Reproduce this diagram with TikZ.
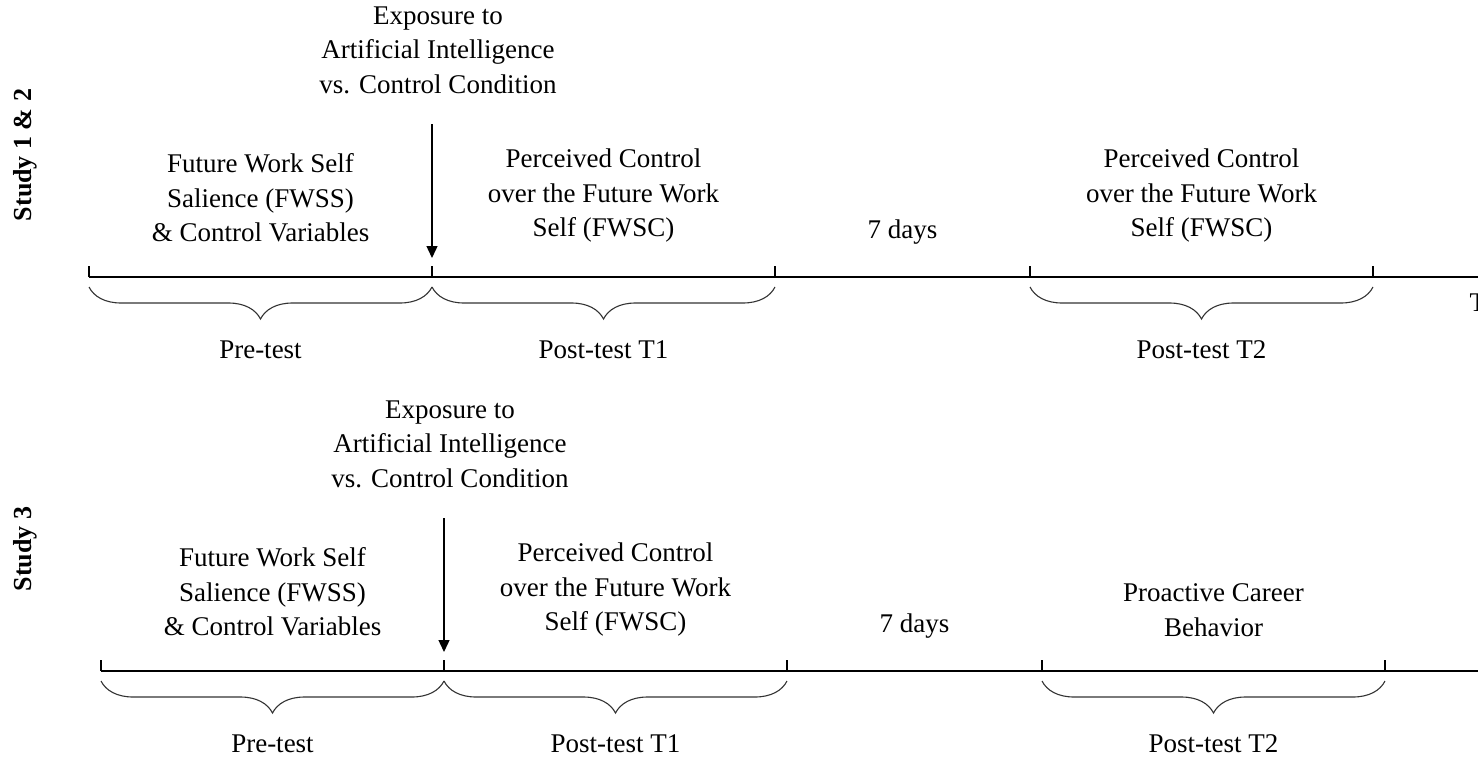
\documentclass[tikz,border=0pt]{standalone}
\usepackage{fontspec}
\setmainfont{Liberation Serif}
\usetikzlibrary{arrows.meta, positioning, calc, decorations.pathreplacing}
\tikzset{
  every picture/.style={line width=1.4pt},
  lbl/.style={align=center, inner sep=0pt, font=\fontsize{27}{34.5}\selectfont},
  study/.style={inner sep=0pt, rotate=90, font=\fontsize{26}{30}\selectfont\bfseries},
  tickmark/.style={line width=1.4pt},
  brc/.style={decorate, decoration={brace, mirror, amplitude=32pt}, line width=1.1pt, draw=black!80},
  arrow/.style={-{Triangle[length=12pt, width=11pt]}, line width=1.4pt},
}

\begin{document}
\begin{tikzpicture}[x=1pt, y=-1pt]
  \useasboundingbox (0,0) rectangle (1478,758);
  \foreach \dx/\dy/\s/\name/\last in {0/0/a/{Study 1 \& 2}/{Perceived Control\\over the Future Work\\Self (FWSC)}, 12/394/b/{Study 3}/{Proactive Career\\Behavior}} {
  \begin{scope}[shift={(\dx,\dy)}]
    % timeline and ticks
    \foreach \x/\n in {89/t0, 432/t1, 775/t2, 1030/t3, 1373/t4}
      \coordinate (\n\s) at (\x,277);
    \draw (t0\s) -- (1600,277);
    \foreach \n in {t0, t1, t2, t3, t4}
      \draw[tickmark] (\n\s) -- ++(0,-11);
    \node[study] (name\s) at (25-\dx,155) {\name};
    % condition
    \node[lbl] (exp\s) at (438,50) {Exposure to\\Artificial Intelligence\\vs. Control Condition};
    \draw[arrow, shorten <=30pt, shorten >=19pt] (exp\s.south -| t1\s) -- (t1\s);
    % measures
    \node[lbl, anchor=south] (pre\s) at ($(t0\s)!.5!(t1\s)+(0,-34)$) {Future Work Self\\Salience (FWSS)\\\& Control Variables};
    \node[lbl, anchor=south] (one\s) at ($(t1\s)!.5!(t2\s)+(0,-34)$) {Perceived Control\\over the Future Work\\Self (FWSC)};
    \node[lbl, anchor=south] (gap\s) at ($(t2\s)!.5!(t3\s)+(0,-32)$) {7 days};
    \node[lbl, anchor=south] (two\s) at ($(t3\s)!.5!(t4\s)+(0,-34)$) {\last};
    % braces
    \foreach \a/\b/\t/\n in {t0/t1/Pre-test/bpre, t1/t2/Post-test T1/bone, t3/t4/Post-test T2/btwo} {
      \draw[brc] ([yshift=-10pt]\a\s) -- ([yshift=-10pt]\b\s);
      \node[lbl] (\n\s) at ($(\a\s)!.5!(\b\s)+(0,73)$) {\t};
    }
  \end{scope}
  }
  \node[lbl, anchor=west] (time) at (1469,303) {Time};
\end{tikzpicture}
\end{document}
